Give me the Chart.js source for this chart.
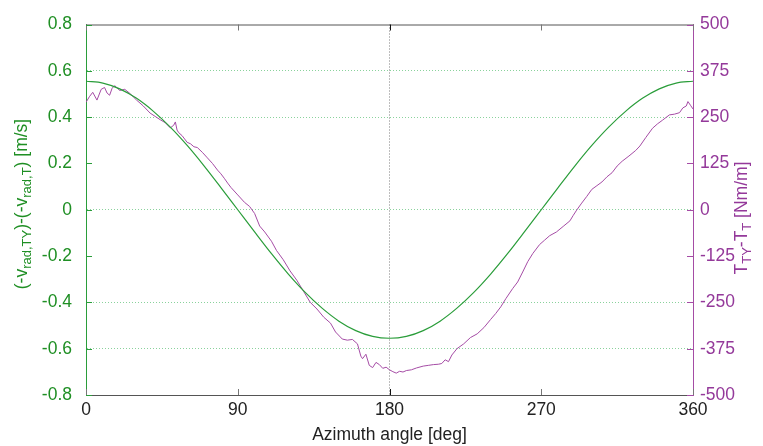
<!DOCTYPE html>
<html>
<head>
<meta charset="utf-8">
<script src="https://cdn.jsdelivr.net/npm/chart.js@4"></script>
<style>
  body { margin: 0; background: #fff; }
  #wrap { width: 763px; height: 446px; }
</style>
</head>
<body>
<div id="wrap"><canvas id="chart" width="763" height="446"></canvas></div>
<script>
// azimuth angles for the velocity curve (deg)
const greenAngles = [0, 10, 20, 30, 40, 50, 60, 70, 80, 90, 100, 110, 120, 130, 140, 150, 160, 170, 180,
    190, 200, 210, 220, 230, 240, 250, 260, 270, 280, 290, 300, 310, 320, 330, 340, 350, 360];
// (-v_rad,TY)-(-v_rad,T) [m/s]
const greenValues = [0.555, 0.547, 0.522, 0.481, 0.425, 0.357, 0.278, 0.190, 0.096, 0.0, -0.096, -0.190, -0.278, -0.357, -0.425, -0.481, -0.522, -0.547, -0.555,
    -0.547, -0.522, -0.481, -0.425, -0.357, -0.278, -0.190, -0.096, 0.0, 0.096, 0.190, 0.278, 0.357, 0.425, 0.481, 0.522, 0.547, 0.555];

// azimuth angles for the torque curve (deg)
const purpleAngles = [0, 2, 4, 6.5, 9, 11, 12.5, 14, 15.5, 17, 20, 23, 26, 28, 30, 34, 38, 41, 44, 47, 50, 52, 53, 54, 55, 57,
    60, 62, 64, 66, 69, 72, 75, 78, 80, 82, 84, 86, 90, 94, 97, 100, 103, 106, 110, 113, 117, 121, 125, 129, 133, 137, 141,
    145, 148, 152, 155, 158, 161, 163, 164, 166, 168, 170, 172, 174, 176, 178, 180, 182, 184, 186, 188, 190, 193, 196, 200,
    203, 206, 209, 211, 213, 215, 217, 220, 224, 228, 232, 236, 240, 243, 246, 249, 253, 256, 259, 262, 265, 269, 272, 275,
    279, 283, 287, 289, 291, 294, 297, 300, 303, 306, 309, 312, 315, 318, 322, 326, 328.5, 332, 336, 339, 342, 346, 349,
    352, 354, 356, 357, 358.5, 360];
// T_TY-T_T [Nm/m]
const purpleValues = [290, 305, 317, 296, 325, 330, 315, 309, 328, 335, 322, 325, 314, 305, 296, 280, 261, 252, 243, 235, 221, 228, 237, 215, 208, 200,
    182, 178, 170, 168, 155, 140, 125, 107, 97, 85, 72, 60, 40, 20, 9, -10, -44, -60, -85, -110, -135, -165, -190, -220, -250, -268, -290,
    -306, -330, -349, -352, -350, -362, -395, -402, -390, -420, -426, -412, -418, -428, -425, -432, -437, -441, -436, -438, -434, -432, -427, -422,
    -420, -418, -417, -415, -405, -410, -392, -375, -362, -345, -335, -318, -296, -280, -262, -240, -213, -195, -168, -140, -118, -94, -82, -70,
    -60, -45, -30, -15, -1, 18, 36, 55, 65, 75, 89, 100, 118, 131, 145, 160, 172, 195, 220, 232, 242, 256, 258,
    262, 275, 280, 292, 282, 272];

const xTicks = [0, 90, 180, 270, 360];
const leftGridValues = [0.6, 0.4, 0, -0.4, -0.6];

const GREEN = '#2a9d3a';
const GREEN_TXT = '#1f8f24';
const PURPLE = '#a54ca5';
const PURPLE_TXT = '#94399a';
const FONT = '"Liberation Sans", Arial, sans-serif';
const FONT_SIZE = 17.5;

// draws a rotated title with subscripts
function drawRichText(ctx, parts, cx, cy, color) {
    ctx.save();
    ctx.translate(cx, cy);
    ctx.rotate(-Math.PI / 2);
    ctx.fillStyle = color;
    ctx.textBaseline = 'middle';
    let total = 0;
    parts.forEach(p => {
        ctx.font = (p.sub ? '13px ' : FONT_SIZE + 'px ') + FONT;
        p.w = ctx.measureText(p.t).width;
        total += p.w;
    });
    let x = -total / 2;
    parts.forEach(p => {
        ctx.font = (p.sub ? '13px ' : FONT_SIZE + 'px ') + FONT;
        ctx.fillText(p.t, x, p.sub ? 5 : 0);
        x += p.w;
    });
    ctx.restore();
}

const decorPlugin = {
    id: 'decor',
    afterDraw(chart) {
        const ctx = chart.ctx;
        const area = chart.chartArea;
        const xs = chart.scales.x, yl = chart.scales.y, yr = chart.scales.y1;
        ctx.save();
        // top border
        ctx.strokeStyle = '#555';
        ctx.lineWidth = 1;
        ctx.beginPath();
        ctx.moveTo(area.left, area.top + 0.5);
        ctx.lineTo(area.right, area.top + 0.5);
        ctx.stroke();
        // inward tick marks on x
        xTicks.forEach(v => {
            const px = Math.round(xs.getPixelForValue(v)) + 0.5;
            ctx.strokeStyle = v === 180 ? '#111' : '#777';
            ctx.beginPath();
            ctx.moveTo(px, area.bottom); ctx.lineTo(px, area.bottom - 6);
            ctx.moveTo(px, area.top); ctx.lineTo(px, area.top + 6);
            ctx.stroke();
        });
        // inward tick marks on left axis
        ctx.strokeStyle = GREEN;
        yl.ticks.forEach(t => {
            const py = Math.round(yl.getPixelForValue(t.value)) + 0.5;
            ctx.beginPath();
            ctx.moveTo(area.left, py); ctx.lineTo(area.left + 6, py);
            ctx.stroke();
        });
        // inward tick marks on right axis
        ctx.strokeStyle = PURPLE;
        yr.ticks.forEach(t => {
            const py = Math.round(yr.getPixelForValue(t.value)) + 0.5;
            ctx.beginPath();
            ctx.moveTo(area.right, py); ctx.lineTo(area.right - 6, py);
            ctx.stroke();
        });
        ctx.restore();

        // axis titles
        drawRichText(ctx, [
            { t: '(-v' }, { t: 'rad,TY', sub: true }, { t: ')-(-v' }, { t: 'rad,T', sub: true }, { t: ') [m/s]' }
        ], 22, 204, GREEN_TXT);
        drawRichText(ctx, [
            { t: 'T' }, { t: 'TY', sub: true }, { t: '-T' }, { t: 'T', sub: true }, { t: ' [Nm/m]' }
        ], 742, 218, PURPLE_TXT);

        ctx.save();
        ctx.fillStyle = '#222';
        ctx.font = FONT_SIZE + 'px ' + FONT;
        ctx.textAlign = 'center';
        ctx.textBaseline = 'middle';
        ctx.fillText('Azimuth angle [deg]', (area.left + area.right) / 2, 435);
        ctx.restore();
    }
};

const greenData = greenAngles.map((a, i) => ({ x: a, y: greenValues[i] }));
const purpleData = purpleAngles.map((a, i) => ({ x: a, y: purpleValues[i] }));

new Chart(document.getElementById('chart').getContext('2d'), {
    type: 'line',
    data: {
        datasets: [{
            label: 'velocity',
            data: greenData,
            yAxisID: 'y',
            borderColor: GREEN,
            borderWidth: 1.2,
            pointRadius: 0,
            tension: 0.4,
            cubicInterpolationMode: 'monotone'
        }, {
            label: 'torque',
            data: purpleData,
            yAxisID: 'y1',
            borderColor: PURPLE,
            borderWidth: 1,
            pointRadius: 0,
            tension: 0
        }]
    },
    options: {
        responsive: false,
        animation: false,
        layout: { padding: { top: 18, left: 0, right: 0, bottom: 0 } },
        plugins: {
            legend: { display: false },
            tooltip: { enabled: false }
        },
        scales: {
            x: {
                type: 'linear',
                min: 0,
                max: 360,
                afterBuildTicks: scale => { scale.ticks = xTicks.map(v => ({ value: v })); },
                ticks: { color: '#222', font: { family: FONT, size: FONT_SIZE }, padding: 5, maxRotation: 0 },
                grid: {
                    drawTicks: false,
                    color: ctx => (ctx.tick && ctx.tick.value === 180) ? 'rgba(80,80,80,0.75)' : 'rgba(0,0,0,0)'
                },
                border: { display: true, color: '#555', dash: [1, 2] },
                afterFit: scale => { scale.height = 51; }
            },
            y: {
                position: 'left',
                min: -0.8,
                max: 0.8,
                ticks: {
                    stepSize: 0.2,
                    color: GREEN_TXT,
                    font: { family: FONT, size: FONT_SIZE },
                    padding: 14,
                    callback: v => {
                        const r = Math.round(v * 10) / 10;
                        return r === 0 ? '0' : r.toString();
                    }
                },
                grid: {
                    drawTicks: false,
                    color: ctx => {
                        const v = ctx.tick ? Math.round(ctx.tick.value * 10) / 10 : null;
                        return leftGridValues.includes(v) ? 'rgba(60,180,90,0.6)' : 'rgba(0,0,0,0)';
                    }
                },
                border: { display: true, color: GREEN, dash: [1, 2] },
                afterFit: scale => { scale.width = 86; }
            },
            y1: {
                position: 'right',
                min: -500,
                max: 500,
                ticks: {
                    stepSize: 125,
                    color: PURPLE_TXT,
                    font: { family: FONT, size: FONT_SIZE },
                    padding: 7
                },
                grid: { drawTicks: false, drawOnChartArea: false },
                border: { display: true, color: PURPLE },
                afterFit: scale => { scale.width = 70; }
            }
        }
    },
    plugins: [decorPlugin]
});
</script>
</body>
</html>
